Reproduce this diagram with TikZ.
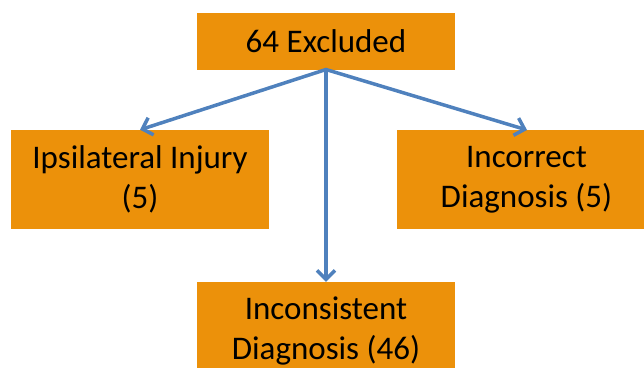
\documentclass[tikz,border=0pt]{standalone}
\usepackage{fontspec}
\setmainfont{Carlito}
\usetikzlibrary{arrows.meta}
\definecolor{boxorange}{RGB}{236,145,10}
\definecolor{arrowblue}{RGB}{79,129,189}
\tikzset{
  box/.style={rectangle, fill=boxorange, draw=none, inner sep=0pt, align=center,
    font=\fontsize{33}{40}\selectfont, text=black},
  conn/.style={draw=arrowblue, line width=3.5pt, line cap=round,
    -{Straight Barb[length=9pt, width=18pt, line width=3.5pt]}}
}
\begin{document}
\begin{tikzpicture}[x=1pt, y=-1pt]
\useasboundingbox (0,0) rectangle (644,367);
\node[box, minimum width=258pt, minimum height=56.5pt] (top) at (326,41.5) {64 Excluded};
\node[box, minimum width=258pt, minimum height=99pt] (left) at (140,179.5) {Ipsilateral Injury\\(5)};
\node[box, minimum width=259pt, minimum height=99pt] (right) at (526.5,179.5) {Incorrect\\Diagnosis (5)};
\node[box, minimum width=258pt, minimum height=98pt] (bottom) at (326,331) {Inconsistent\\Diagnosis (46)};
\coordinate (src) at (326,69.5);
\draw[conn] (src) -- (left.north);
\draw[conn] (src) -- (bottom.north);
\draw[conn] (src) -- (527,130);
\end{tikzpicture}
\end{document}
